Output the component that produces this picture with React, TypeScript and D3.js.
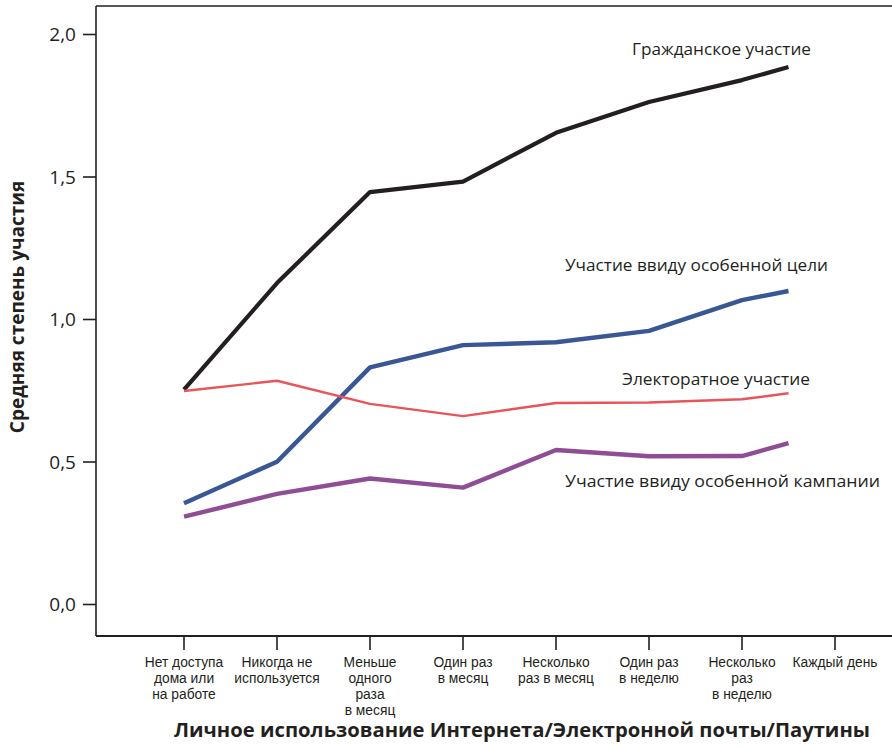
import React from "react";
import * as d3 from "d3";

const categories: string[][] = [
  ["Нет доступа", "дома или", "на работе"],
  ["Никогда не", "используется"],
  ["Меньше", "одного", "раза", "в месяц"],
  ["Один раз", "в месяц"],
  ["Несколько", "раз в месяц"],
  ["Один раз", "в неделю"],
  ["Несколько", "раз", "в неделю"],
  ["Каждый день"],
];

const pointIndex = [0, 1, 2, 3, 4, 5, 6, 6.5];

const civic = [0.754, 1.128, 1.447, 1.484, 1.655, 1.763, 1.84, 1.886];
const cause = [0.355, 0.501, 0.832, 0.91, 0.92, 0.96, 1.068, 1.1];
const electoral = [0.749, 0.785, 0.704, 0.661, 0.707, 0.709, 0.72, 0.741];
const campaign = [0.308, 0.388, 0.442, 0.41, 0.542, 0.52, 0.521, 0.566];

const yTicks = [0, 0.5, 1.0, 1.5, 2.0];
const yTickLabels = ["0,0", "0,5", "1,0", "1,5", "2,0"];

const seriesNames = [
  "Гражданское участие",
  "Участие ввиду особенной цели",
  "Электоратное участие",
  "Участие ввиду особенной кампании",
];

const yTitle = "Средняя степень участия";
const xTitle = "Личное использование Интернета/Электронной почты/Паутины";

const FONT = "'Open Sans', 'Noto Sans', sans-serif";
const TICK_FONT = "'Liberation Sans', Arial, sans-serif";
const TXT = "#231f20";

export default function App() {
  const W = 892;
  const H = 747;
  const left = 96;
  const top = 6;
  const bottom = 636;

  const x = d3.scaleLinear().domain([0, 7]).range([184, 835]);
  const y = d3.scaleLinear().domain([0, 2]).range([604.5, 34.5]);

  const line = d3
    .line<number>()
    .x((_, i) => x(pointIndex[i]))
    .y((d) => y(d));

  const series = [
    { values: civic, color: "#231f20", width: 4.2, label: seriesNames[0], lx: 632, ly: 55, lw: 179 },
    { values: cause, color: "#3a5795", width: 4.4, label: seriesNames[1], lx: 565, ly: 271, lw: 263 },
    { values: electoral, color: "#e8545a", width: 2.4, label: seriesNames[2], lx: 622, ly: 385, lw: 188 },
    { values: campaign, color: "#8e4d95", width: 4.4, label: seriesNames[3], lx: 565, ly: 487, lw: 315 },
  ];

  return (
    <svg
      width={W}
      height={H}
      style={{ position: "absolute", left: 0, top: 0, background: "#fff" }}
      fontFamily={FONT}
    >
      {/* frame */}
      <line x1={left} y1={top} x2={W} y2={top} stroke={TXT} strokeWidth={1.6} />
      <line x1={left} y1={top} x2={left} y2={bottom} stroke={TXT} strokeWidth={1.6} />
      <line x1={left} y1={bottom} x2={W} y2={bottom} stroke={TXT} strokeWidth={2} />

      {/* y ticks */}
      {yTicks.map((t, i) => (
        <g key={"y" + i}>
          <line x1={83} x2={left} y1={y(t)} y2={y(t)} stroke={TXT} strokeWidth={1.6} />
          <text
            x={76}
            y={y(t)}
            dy="0.35em"
            textAnchor="end"
            fontSize={19}
            fill={TXT}
          >
            {yTickLabels[i]}
          </text>
        </g>
      ))}

      {/* x ticks */}
      {categories.map((lines, i) => (
        <g key={"x" + i}>
          <line x1={x(i)} x2={x(i)} y1={bottom} y2={650} stroke={TXT} strokeWidth={1.6} />
          {lines.map((l, j) => (
            <text
              key={j}
              x={x(i)}
              y={667 + j * 16}
              textAnchor="middle"
              fontSize={13.8}
              fontFamily={TICK_FONT}
              fill={TXT}
            >
              {l}
            </text>
          ))}
        </g>
      ))}

      {/* lines */}
      {series.map((s, i) => (
        <path
          key={"s" + i}
          d={line(s.values) || ""}
          fill="none"
          stroke={s.color}
          strokeWidth={s.width}
          strokeLinejoin="round"
        />
      ))}

      {/* series labels */}
      {series.map((s, i) => (
        <text
          key={"l" + i}
          x={s.lx}
          y={s.ly}
          fontSize={15.5}
          fill={TXT}
          textLength={s.lw}
          lengthAdjust="spacingAndGlyphs"
        >
          {s.label}
        </text>
      ))}

      {/* axis titles */}
      <text
        transform={`translate(24, 307) rotate(-90)`}
        textAnchor="middle"
        fontSize={19}
        fontWeight="bold"
        fill={TXT}
      >
        {yTitle}
      </text>
      <text
        x={522}
        y={737}
        textAnchor="middle"
        fontSize={19}
        fontWeight="bold"
        fill={TXT}
        textLength={696}
        lengthAdjust="spacingAndGlyphs"
      >
        {xTitle}
      </text>
    </svg>
  );
}
